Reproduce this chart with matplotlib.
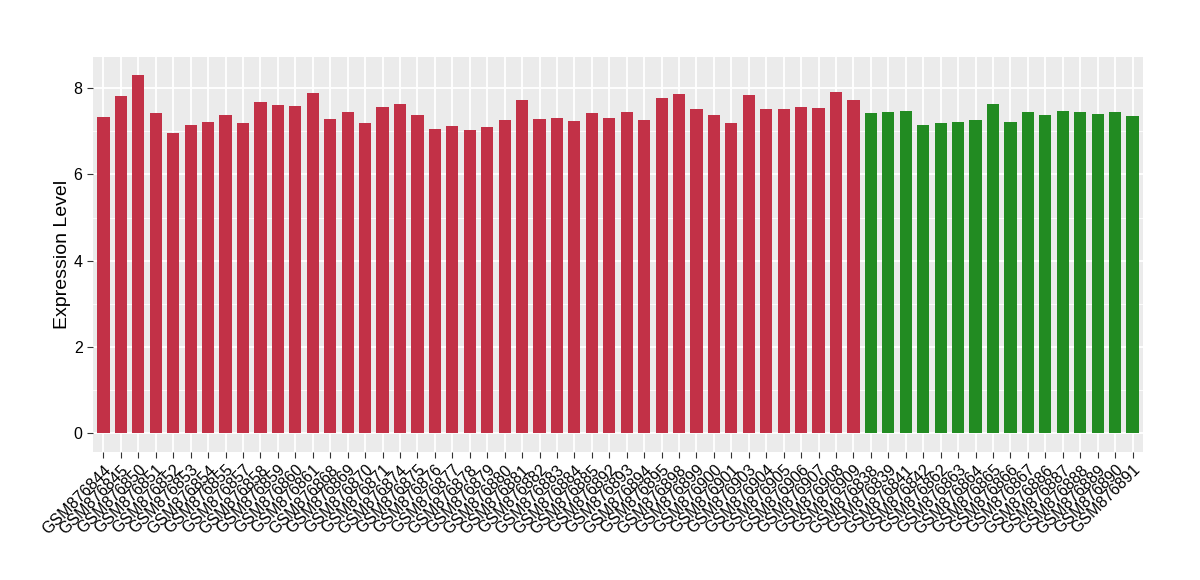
import numpy as np
import matplotlib.pyplot as plt
from matplotlib.ticker import MultipleLocator

# Sample ids and expression values
red_samples = ["GSM876844", "GSM876845", "GSM876850", "GSM876851", "GSM876852",
               "GSM876853", "GSM876854", "GSM876855", "GSM876857", "GSM876858",
               "GSM876859", "GSM876860", "GSM876861", "GSM876868", "GSM876869",
               "GSM876870", "GSM876871", "GSM876874", "GSM876875", "GSM876876",
               "GSM876877", "GSM876878", "GSM876879", "GSM876880", "GSM876881",
               "GSM876882", "GSM876883", "GSM876884", "GSM876885", "GSM876892",
               "GSM876893", "GSM876894", "GSM876895", "GSM876898", "GSM876899",
               "GSM876900", "GSM876901", "GSM876903", "GSM876904", "GSM876905",
               "GSM876906", "GSM876907", "GSM876908", "GSM876909"]
red_values = [7.33, 7.82, 8.31, 7.43, 6.96, 7.15, 7.22, 7.38, 7.19, 7.68,
              7.61, 7.59, 7.89, 7.29, 7.45, 7.19, 7.57, 7.64, 7.38, 7.05,
              7.12, 7.03, 7.10, 7.27, 7.73, 7.29, 7.31, 7.24, 7.43, 7.31,
              7.45, 7.27, 7.77, 7.86, 7.52, 7.38, 7.19, 7.84, 7.52, 7.52,
              7.57, 7.54, 7.91, 7.73]

green_samples = ["GSM876838", "GSM876839", "GSM876841", "GSM876842", "GSM876862",
                 "GSM876863", "GSM876864", "GSM876865", "GSM876866", "GSM876867",
                 "GSM876886", "GSM876887", "GSM876888", "GSM876889", "GSM876890",
                 "GSM876891"]
green_values = [7.43, 7.45, 7.47, 7.15, 7.19, 7.22, 7.27, 7.64, 7.22, 7.45,
                7.38, 7.47, 7.45, 7.40, 7.45, 7.36]

RED = "#C23147"
GREEN = "#228B22"

labels = red_samples + green_samples
values = red_values + green_values
colors = [RED] * len(red_samples) + [GREEN] * len(green_samples)
x = np.arange(len(labels))

fig = plt.figure(figsize=(12, 5.8), dpi=100)
ax = fig.add_axes([0.0775, 0.221, 0.875, 0.681])
ax.set_facecolor("#EBEBEB")

ax.bar(x, values, width=0.7, color=colors, zorder=3)

ax.set_xlim(-0.6, len(labels) - 0.4)
ax.set_ylim(-0.44, 8.73)
ax.yaxis.set_major_locator(MultipleLocator(2))
ax.yaxis.set_minor_locator(MultipleLocator(1))
ax.set_xticks(x)
ax.set_xticklabels(labels, rotation=45, ha="right", rotation_mode="anchor",
                   fontsize=11.5, family="Liberation Sans")
for t in ax.get_yticklabels():
    t.set_fontsize(11.5)
    t.set_family("Liberation Sans")

ax.grid(which="major", color="white", linewidth=1.3, zorder=0)
ax.grid(which="minor", axis="y", color="white", linewidth=0.6, zorder=0)
ax.tick_params(which="major", length=4, color="#333333", labelcolor="black")
ax.tick_params(which="minor", length=0)
for s in ax.spines.values():
    s.set_visible(False)

ax.set_ylabel("Expression Level", fontsize=14, family="Liberation Sans",
              labelpad=2)

fig.savefig("out.png", dpi=100)
